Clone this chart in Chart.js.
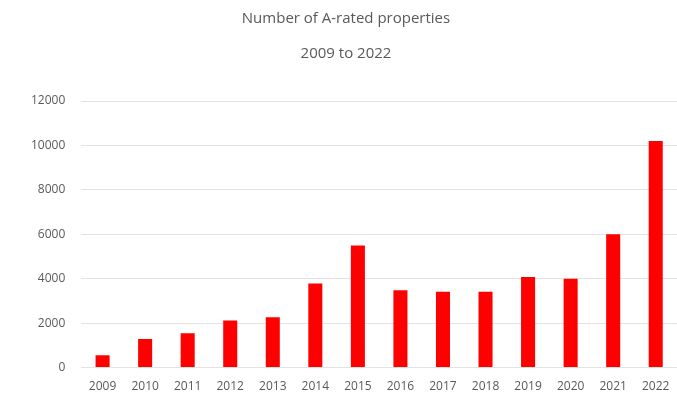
<!DOCTYPE html>
<html>
<head>
<meta charset="utf-8">
<script src="https://cdn.jsdelivr.net/npm/chart.js@4"></script>
<style>
  body { margin: 0; background: #fff; }
  #wrap { width: 677px; height: 398px; }
</style>
</head>
<body>
<div id="wrap"><canvas id="ratedChart" width="677" height="398"></canvas></div>
<script>
// years and counts
var years = ['2009', '2010', '2011', '2012', '2013', '2014', '2015',
             '2016', '2017', '2018', '2019', '2020', '2021', '2022'];
var ratedCounts = [560, 1290, 1550, 2120, 2270, 3780, 5500,
                   3480, 3410, 3410, 4080, 4000, 6000, 10200];
var yTicks = [0, 2000, 4000, 6000, 8000, 10000, 12000];

var textGrey = '#595959';
Chart.defaults.font.family = "'Open Sans', 'Liberation Sans', sans-serif";

var ctx = document.getElementById('ratedChart');

var chart = new Chart(ctx, {
    type: 'bar',
    data: {
        labels: years,
        datasets: [{
            label: 'A-rated properties',
            data: ratedCounts,
            backgroundColor: '#ff0000',
            borderWidth: 0,
            barPercentage: 0.66,
            categoryPercentage: 0.5
        }]
    },
    options: {
        responsive: false,
        animation: false,
        layout: {
            padding: { left: 15, right: 0, top: 0, bottom: 0 }
        },
        plugins: {
            legend: { display: false },
            tooltip: { enabled: false },
            title: {
                display: true,
                text: 'Number of A-rated properties',
                color: textGrey,
                font: { size: 15, weight: 'normal' },
                padding: { top: 10, bottom: 17 }
            },
            subtitle: {
                display: true,
                text: '2009 to 2022',
                color: textGrey,
                font: { size: 15, weight: 'normal' },
                padding: { top: 0, bottom: 38 }
            }
        },
        scales: {
            x: {
                grid: { display: false },
                border: { display: false },
                ticks: {
                    color: textGrey,
                    font: { size: 12 },
                    maxRotation: 0,
                    autoSkip: false,
                    padding: 4
                }
            },
            y: {
                min: 0,
                max: 12000,
                afterBuildTicks: function (axis) {
                    axis.ticks = yTicks.map(function (v) { return { value: v }; });
                },
                grid: { color: '#e3e3e3', drawTicks: false },
                border: { display: false },
                ticks: {
                    color: textGrey,
                    font: { size: 12 },
                    padding: 16,
                    callback: function (value) { return String(value); }
                }
            }
        }
    }
});
</script>
</body>
</html>
